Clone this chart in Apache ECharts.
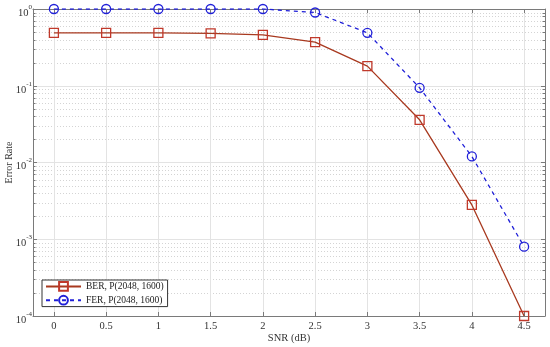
<!DOCTYPE html>
<html><head><meta charset="utf-8">
<script src="https://cdn.jsdelivr.net/npm/echarts@6/dist/echarts.min.js"></script>
<style>html,body{margin:0;padding:0;background:#fff}#c{width:550px;height:347px}</style>
</head><body><div id="c"></div>
<script>
const snr = [0, 0.5, 1, 1.5, 2, 2.5, 3, 3.5, 4, 4.5];
const xTicks = [0, 0.5, 1, 1.5, 2, 2.5, 3, 3.5, 4, 4.5];
const ber = [0.49, 0.49, 0.49, 0.48, 0.46, 0.37, 0.18, 0.036, 0.0028, 0.0001];
const fer = [1.0, 1.0, 1.0, 1.0, 1.0, 0.9, 0.49, 0.094, 0.012, 0.0008];
const berName = 'BER, P(2048, 1600)';
const ferName = 'FER, P(2048, 1600)';
const decades = [-4, -3, -2, -1];
const minorMult = [2, 3, 4, 5, 6, 7, 8, 9];

const FONT = '"Liberation Serif", "DejaVu Serif", serif';
const axisCol = '#7a7a7a';
const gridCol = '#e3e3e3';
const GL = 33, GR = 5, GT = 9, GB = 31, W = 550, H = 347;

const chart = echarts.init(document.getElementById('c'), null, {renderer: 'canvas'});
const xBase = {
  type: 'value', min: -0.2, max: 4.7,
  axisLine: {show: true, onZero: false, lineStyle: {color: axisCol, width: 1}},
  axisTick: {show: true, inside: true, length: 4, customValues: xTicks, lineStyle: {color: axisCol}},
};
const yBase = {
  type: 'log', min: 0.0001, max: 1, logBase: 10,
  axisLine: {show: true, onZero: false, lineStyle: {color: axisCol, width: 1}},
  axisTick: {show: true, inside: true, length: 4, lineStyle: {color: axisCol}},
};
function supLabel(v) {
  const e = Math.round(Math.log10(v));
  return '{b|10}{s|' + e + '}';
}
chart.setOption({
  animation: false,
  backgroundColor: '#fff',
  grid: {left: GL, right: GR, top: GT, bottom: GB, containLabel: false, outerBoundsMode: 'none'},
  xAxis: [
    Object.assign({}, xBase, {
      position: 'bottom',
      name: 'SNR (dB)', nameLocation: 'middle', nameGap: 17, nameMoveOverlap: false,
      nameTextStyle: {fontFamily: FONT, fontSize: 10.5, color: '#333'},
      axisLabel: {show: true, margin: 5, fontFamily: FONT, fontSize: 10.5, color: '#333', customValues: xTicks},
      splitLine: {show: true, lineStyle: {color: gridCol, width: 1}}
    }),
    Object.assign({}, xBase, {
      position: 'top',
      axisLabel: {show: false, customValues: xTicks},
      splitLine: {show: false}
    })
  ],
  yAxis: [
    Object.assign({}, yBase, {
      position: 'left',
      name: 'Error Rate', nameLocation: 'middle', nameGap: 19, nameMoveOverlap: false,
      nameTextStyle: {fontFamily: FONT, fontSize: 10, color: '#333'},
      axisLabel: {show: true, margin: 1, formatter: supLabel,
        rich: {
          b: {fontFamily: FONT, fontSize: 10.5, color: '#333', verticalAlign: 'bottom', padding: [0, 0, -4, 0]},
          s: {fontFamily: FONT, fontSize: 7, color: '#333', verticalAlign: 'top', padding: [0, 0, 4, 0]}
        }},
      splitLine: {show: true, lineStyle: {color: gridCol, width: 1}}
    }),
    Object.assign({}, yBase, {
      position: 'right',
      axisLabel: {show: false},
      splitLine: {show: false}
    })
  ],
  legend: {
    show: true,
    left: 42, top: 280,
    orient: 'vertical',
    itemWidth: 35, itemHeight: 11, itemGap: 3,
    padding: [1, 4, 1, 3],
    backgroundColor: '#fff',
    borderColor: '#333', borderWidth: 1, borderRadius: 0,
    textStyle: {fontFamily: FONT, fontSize: 9.5, color: '#222'},
    data: [berName, ferName]
  },
  series: [
    {
      name: berName, type: 'line', xAxisIndex: 0, yAxisIndex: 0,
      data: snr.map((x, i) => [x, ber[i]]),
      symbol: 'rect', symbolSize: 9,
      lineStyle: {color: '#A8391F', width: 1.3},
      itemStyle: {color: 'rgba(255,255,255,0)', borderColor: '#C0392B', borderWidth: 1.3},
      z: 3
    },
    {
      name: ferName, type: 'line', xAxisIndex: 0, yAxisIndex: 0,
      data: snr.map((x, i) => [x, fer[i]]),
      symbol: 'circle', symbolSize: 9,
      lineStyle: {color: '#2020D8', width: 1.3, type: [4, 4]},
      itemStyle: {color: 'rgba(255,255,255,0)', borderColor: '#2020D8', borderWidth: 1.3},
      z: 3
    }
  ]
});

// minor log grid lines and minor ticks, positioned through the y-axis scale
const gfx = [];
decades.forEach(d => minorMult.forEach(m => {
  const v = m * Math.pow(10, d);
  const y = Math.round(chart.convertToPixel({yAxisIndex: 0}, v)) + 0.5;
  gfx.push({type: 'line', silent: true, z: -1, shape: {x1: GL, y1: y, x2: W - GR, y2: y},
    style: {stroke: '#d4d4d4', lineWidth: 1, lineDash: [1, 2]}});
  gfx.push({type: 'line', silent: true, z: 5, shape: {x1: GL, y1: y, x2: GL + 2.5, y2: y},
    style: {stroke: axisCol, lineWidth: 1}});
  gfx.push({type: 'line', silent: true, z: 5, shape: {x1: W - GR - 2.5, y1: y, x2: W - GR, y2: y},
    style: {stroke: axisCol, lineWidth: 1}});
}));
chart.setOption({graphic: {elements: gfx}});
</script>
</body></html>
